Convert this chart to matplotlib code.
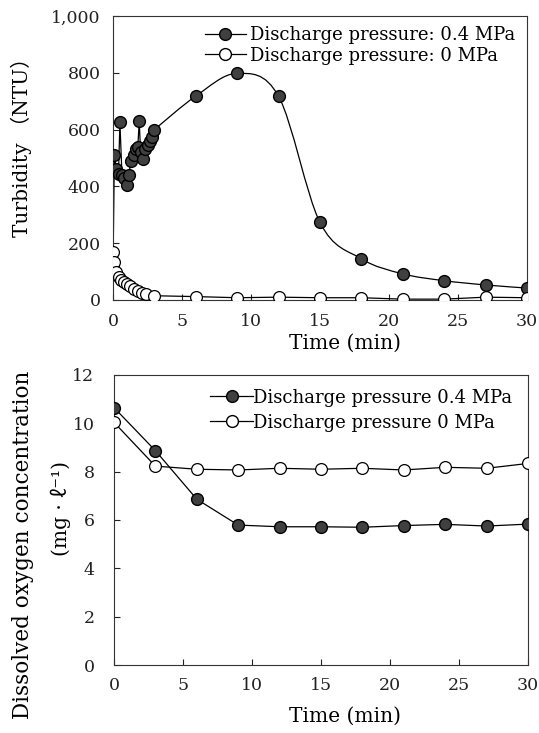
import numpy as np
import matplotlib
matplotlib.use("Agg")
import matplotlib.pyplot as plt
from matplotlib.path import Path
from matplotlib.patches import PathPatch
from matplotlib.lines import Line2D
from matplotlib.ticker import FuncFormatter

FONTS = ['DejaVu Serif', 'Noto Sans CJK JP', 'DejaVu Sans']
plt.rcParams['font.family'] = FONTS

# ---------------- Data: turbidity (top) ----------------
turb_t_04 = [0, 0.1, 0.25, 0.4, 0.5, 0.65, 0.8, 1.0, 1.15, 1.3, 1.5, 1.65, 1.8,
             1.9, 2.0, 2.15, 2.3, 2.5, 2.65, 2.8, 3.0,
             6, 9, 12, 15, 18, 21, 24, 27, 30]
turb_v_04 = [113, 510, 460, 445, 625, 440, 430, 405, 440, 490, 510, 530, 540,
             630, 520, 495, 530, 545, 560, 575, 600,
             718, 798, 717, 273, 145, 92, 68, 53, 42]
turb_t_0 = [0, 0.1, 0.25, 0.4, 0.6, 0.8, 1.0, 1.2, 1.5, 1.8, 2.1, 2.4, 3,
            6, 9, 12, 15, 18, 21, 24, 27, 30]
turb_v_0 = [170, 135, 100, 80, 70, 62, 55, 48, 40, 32, 25, 20, 15,
            12, 8, 10, 8, 8, 3, 3, 10, 8]

# ---------------- Data: dissolved oxygen (bottom) ----------------
do_t = [0, 3, 6, 9, 12, 15, 18, 21, 24, 27, 30]
do_04 = [10.65, 8.87, 6.86, 5.79, 5.72, 5.72, 5.70, 5.77, 5.82, 5.75, 5.83]
do_0 = [10.04, 8.23, 8.10, 8.07, 8.14, 8.10, 8.14, 8.07, 8.18, 8.14, 8.34]

x_ticks = [0, 5, 10, 15, 20, 25, 30]
turb_ticks = [0, 200, 400, 600, 800, 1000]
do_ticks = [0, 2, 4, 6, 8, 10, 12]

label_04_top = "Discharge pressure: 0.4 MPa"
label_0_top = "Discharge pressure: 0 MPa"
label_04_bot = "Discharge pressure 0.4 MPa"
label_0_bot = "Discharge pressure 0 MPa"

FILL = '#404040'
MS = 8.5
TICKFS = 12.5
LEGFS = 13
LABFS = 14.5

W, H = 539, 733


def smooth_path(xs, ys):
    """Catmull-Rom curve through the data points, as Bezier path."""
    pts = np.column_stack([xs, ys]).astype(float)
    n = len(pts)
    verts = [pts[0]]
    codes = [Path.MOVETO]
    for i in range(n - 1):
        p0 = pts[i - 1] if i > 0 else pts[i]
        p1 = pts[i]
        p2 = pts[i + 1]
        p3 = pts[i + 2] if i + 2 < n else pts[i + 1]
        c1 = p1 + (p2 - p0) / 6.0
        c2 = p2 - (p3 - p1) / 6.0
        verts += [c1, c2, p2]
        codes += [Path.CURVE4] * 3
    return Path(verts, codes)


def style_axes(ax, xpad, ypad):
    for s in ax.spines.values():
        s.set_color('#333333')
        s.set_linewidth(0.8)
    ax.tick_params(direction='in', length=4, width=0.8, labelsize=TICKFS,
                   colors='#222222')
    ax.tick_params(axis='x', pad=xpad)
    ax.tick_params(axis='y', pad=ypad)
    ax.set_xticks(x_ticks)


def px_text(x, y, s, **kw):
    fig.text(x / W, 1 - y / H, s, ha='center', va='center', **kw)


fig = plt.figure(figsize=(W / 100, H / 100), dpi=100)

# ---------------- Top chart ----------------
ax1 = fig.add_axes([113 / W, 1 - 300 / H, 414 / W, 284 / H])
split = 20  # index where the smooth section starts (t = 3 min)
ax1.plot(turb_t_04[:split + 1], turb_v_04[:split + 1], color='black', lw=0.9, zorder=2)
ax1.add_patch(PathPatch(smooth_path(turb_t_04[split:], turb_v_04[split:]),
                        facecolor='none', edgecolor='black', lw=0.9, zorder=2))
ax1.plot(turb_t_0, turb_v_0, color='black', lw=0.9, zorder=2)
ax1.plot(turb_t_04, turb_v_04, ls='none', marker='o', ms=MS, mfc=FILL,
         mec='black', mew=1.0, zorder=3)
ax1.plot(turb_t_0, turb_v_0, ls='none', marker='o', ms=MS, mfc='white',
         mec='black', mew=0.9, zorder=4)
ax1.set_xlim(0, 30)
ax1.set_ylim(0, 1000)
ax1.set_yticks(turb_ticks)
ax1.yaxis.set_major_formatter(FuncFormatter(lambda v, p: f"{int(v):,}"))
style_axes(ax1, xpad=9, ypad=9)

h1 = [Line2D([], [], color='black', lw=0.9, marker='o', ms=MS, mfc=FILL, mec='black'),
      Line2D([], [], color='black', lw=0.9, marker='o', ms=MS, mfc='white', mec='black')]
ax1.legend(h1, [label_04_top, label_0_top], loc='upper right', frameon=False,
           fontsize=LEGFS, handlelength=2.3, handletextpad=0.2, labelspacing=0.15,
           borderaxespad=0.15, bbox_to_anchor=(0.995, 1.0))

# ---------------- Bottom chart ----------------
ax2 = fig.add_axes([114 / W, 1 - 665 / H, 414 / W, 290 / H])
ax2.plot(do_t, do_04, color='black', lw=0.9, marker='o', ms=MS, mfc=FILL,
         mec='black', mew=1.0, zorder=3)
ax2.plot(do_t, do_0, color='black', lw=0.9, marker='o', ms=MS, mfc='white',
         mec='black', mew=0.9, zorder=4)
ax2.set_xlim(0, 30)
ax2.set_ylim(0, 12)
ax2.set_yticks(do_ticks)
style_axes(ax2, xpad=9, ypad=14)

h2 = [Line2D([], [], color='black', lw=0.9, marker='o', ms=MS, mfc=FILL, mec='black'),
      Line2D([], [], color='black', lw=0.9, marker='o', ms=MS, mfc='white', mec='black')]
ax2.legend(h2, [label_04_bot, label_0_bot], loc='upper right', frameon=False,
           fontsize=LEGFS, handlelength=2.4, handletextpad=0.0, labelspacing=0.4,
           borderaxespad=0.35, bbox_to_anchor=(0.995, 1.0))

# ---------------- Axis titles ----------------
px_text(345, 343, "Time (min)", fontsize=LABFS)
px_text(345, 716, "Time (min)", fontsize=LABFS)
px_text(21, 142, "Turbidity （NTU）", fontsize=LABFS, rotation=90)
px_text(23, 545, "Dissolved oxygen concentration", fontsize=15.5, rotation=90)
px_text(61, 509, "(mg · ℓ⁻¹)", fontsize=LABFS, rotation=90)

fig.savefig("out.png", dpi=100)
